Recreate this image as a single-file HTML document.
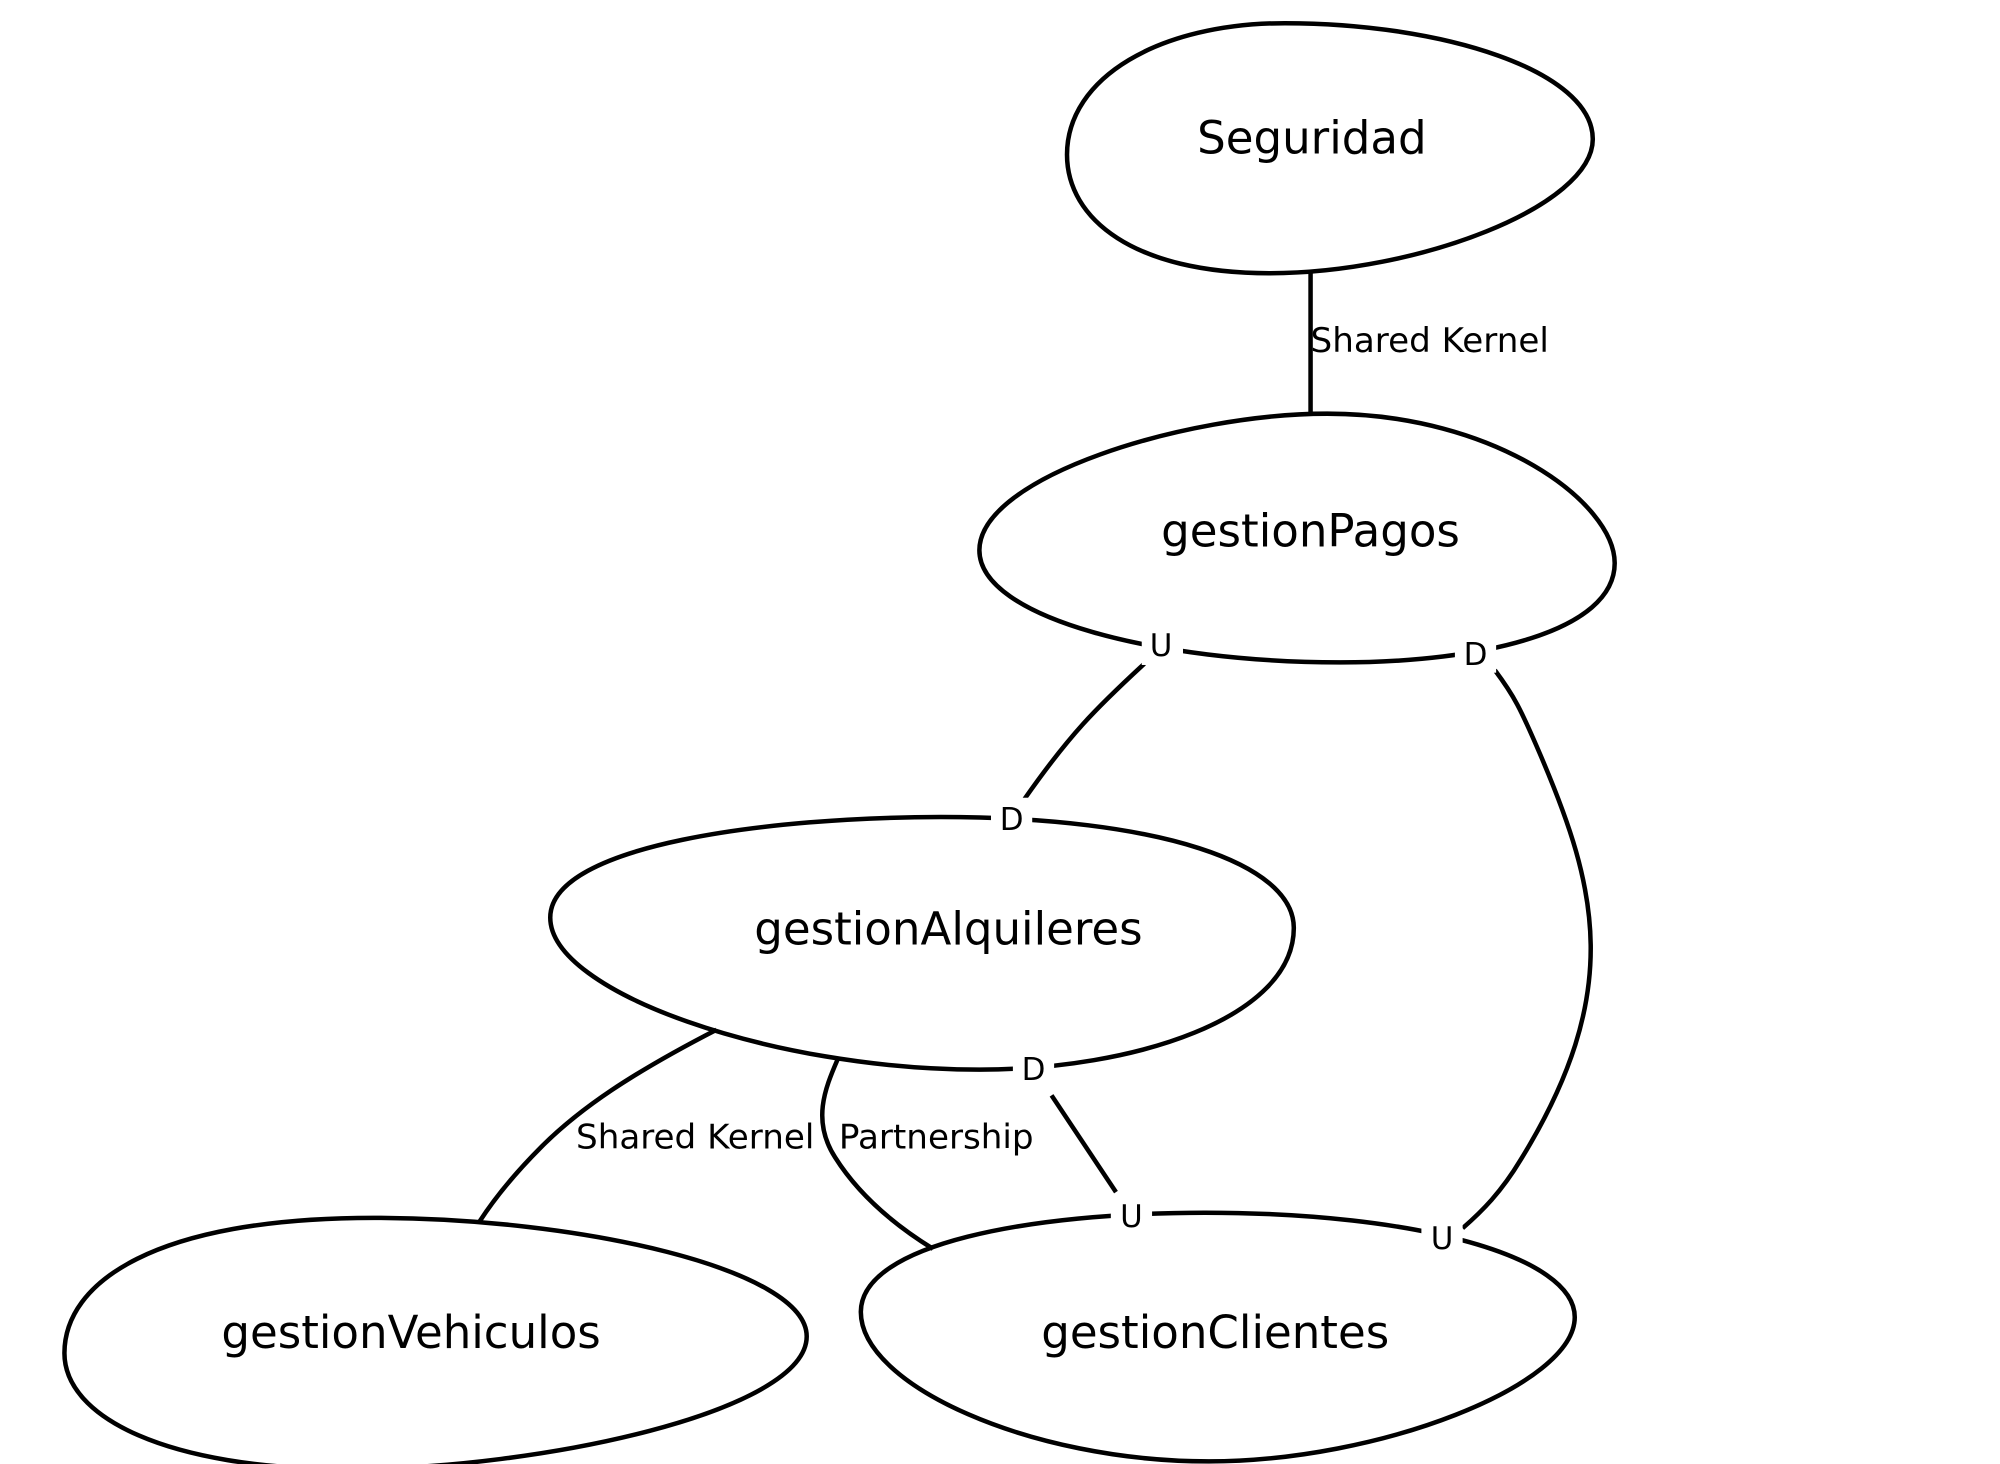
<!DOCTYPE html>
<html><head><meta charset="utf-8"><style>
html,body{margin:0;padding:0;background:#fff;}
svg{display:block;}
text{font-family:"DejaVu Sans","Liberation Sans",sans-serif;fill:#000;}
</style></head><body>
<svg width="2000" height="1464" viewBox="0 0 1552 1136" preserveAspectRatio="none" xmlns="http://www.w3.org/2000/svg">
<g fill="none" stroke="#000" stroke-width="3.5">
<path d="M 997 18 C 1120 18 1236 55 1236 108 C 1236 160 1100 212 985 212 C 880 212 828 170 828 120 C 828 60 900 18 997 18 Z"/>
<path d="M 1030 321 C 1160 321 1253 390 1253 437 C 1253 490 1150 514 1040 514 C 900 514 760 480 760 427 C 760 370 920 321 1030 321 Z"/>
<path d="M 730 634 C 900 634 1004 670 1004 720 C 1004 790 880 830 760 830 C 600 830 427 770 427 712 C 427 655 600 634 730 634 Z"/>
<path d="M 290 945 C 450 945 626 985 626 1037 C 626 1095 420 1140 270 1140 C 130 1140 50 1100 50 1050 C 50 995 120 945 290 945 Z"/>
<path d="M 935 941 C 1100 941 1222 975 1222 1022 C 1222 1075 1070 1134 938 1134 C 800 1134 668 1075 668 1018 C 668 965 800 941 935 941 Z"/>
<path d="M 1017 212 L 1017 321"/>
<path d="M 888 515 C 850 550 830 570 795 620"/>
<path d="M 1160 520 C 1175 540 1180 550 1195 585 C 1240 690 1260 770 1180 900 C 1165 925 1150 940 1135 953"/>
<path d="M 816 850 L 866 925"/>
<path d="M 556 799 C 490 833 450 860 420 890 C 400 910 385 928 372 948"/>
<path d="M 650 822 C 640 845 630 870 648 898 C 665 925 690 948 724 969"/>
</g>
<g fill="#fff">
<rect x="886" y="484" width="32" height="32"/>
<rect x="1129" y="490" width="32" height="32"/>
<rect x="769" y="619" width="32" height="32"/>
<rect x="786" y="813" width="32" height="32"/>
<rect x="862" y="927" width="32" height="32"/>
<rect x="1103" y="944" width="32" height="32"/>
</g>
<g font-size="35" text-anchor="middle">
<text x="1018" y="119">Seguridad</text>
<text x="1017" y="424">gestionPagos</text>
<text x="736" y="733">gestionAlquileres</text>
<text x="319" y="1046">gestionVehiculos</text>
<text x="943" y="1046">gestionClientes</text>
</g>
<g font-size="24" text-anchor="middle">
<text x="901" y="509">U</text>
<text x="1145" y="516">D</text>
<text x="785" y="644">D</text>
<text x="802" y="838">D</text>
<text x="878" y="952">U</text>
<text x="1119" y="969">U</text>
</g>
<g font-size="26.5">
<text x="1017" y="273">Shared Kernel</text>
<text x="447" y="891">Shared Kernel</text>
<text x="651" y="891">Partnership</text>
</g>
</svg>
</body></html>
